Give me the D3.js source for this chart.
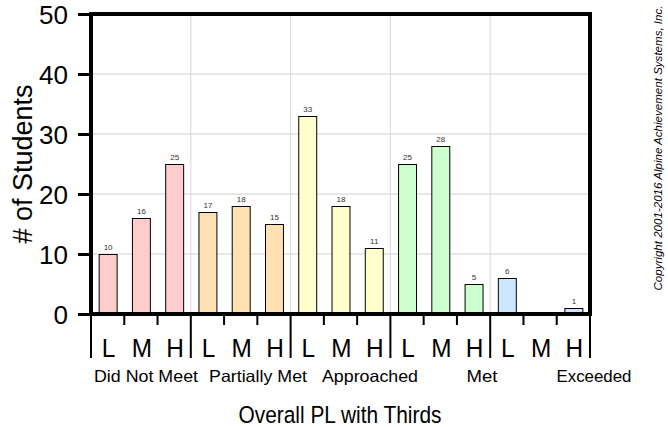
<!DOCTYPE html>
<html><head><meta charset="utf-8">
<script src="https://cdn.jsdelivr.net/npm/d3@7"></script>
<style>body{margin:0;background:#fff}svg{display:block;font-family:"Liberation Sans",Arial,sans-serif}</style>
</head><body><svg id="c" width="668" height="427"></svg>
<script>
const groups = ["Did Not Meet","Partially Met","Approached","Met","Exceeded"];
const thirds = ["L","M","H"];
const values = [[10,16,25],[17,18,15],[33,18,11],[25,28,5],[6,0,1]];
const colors = ["#ffcccc","#ffe0b2","#ffffcc","#ccffcc","#cce6ff"];
const yTicks = [0,10,20,30,40,50];

const svg = d3.select("#c");
const L = 91, R = 590, T = 14, B = 314;
const slots = [];
groups.forEach((g,gi)=>thirds.forEach((t,ti)=>slots.push({g,gi,t,ti,v:values[gi][ti],key:gi+"-"+ti})));
const x = d3.scaleBand().domain(slots.map(d=>d.key)).range([L,R]).paddingInner(0.46).paddingOuter(0.23);
const gx = d3.scaleBand().domain(groups).range([L,R]);
const gl = d3.scaleBand().domain(groups).range([90,650]);
const y = d3.scaleLinear().domain([0,50]).range([B,T]);

// grid
svg.append("g").selectAll("line").data(yTicks.slice(1,-1)).join("line")
  .attr("x1",L).attr("x2",R).attr("y1",d=>y(d)).attr("y2",d=>y(d)).attr("stroke","#d0d0d0");
svg.append("g").selectAll("line").data(groups.slice(1)).join("line")
  .attr("x1",d=>gx(d)).attr("x2",d=>gx(d)).attr("y1",T).attr("y2",B).attr("stroke","#d8d8d8");

// bars
svg.append("g").selectAll("rect").data(slots.filter(d=>d.v>0)).join("rect")
  .attr("x",d=>x(d.key)+0.5).attr("y",d=>y(d.v)+0.5).attr("width",x.bandwidth()).attr("height",d=>y(0)-y(d.v))
  .attr("fill",d=>colors[d.gi]).attr("stroke","#000").attr("stroke-width",1);
svg.append("g").selectAll("text").data(slots.filter(d=>d.v>0)).join("text")
  .attr("x",d=>x(d.key)+x.bandwidth()/2+0.5).attr("y",d=>y(d.v)-4)
  .attr("text-anchor","middle").attr("font-size",8).attr("fill","#333").text(d=>d.v);

// frame
svg.append("path").attr("d",`M${L},${B}V${T}H${R}V${B}`).attr("fill","none").attr("stroke","#000").attr("stroke-width",4);

// y axis
const ya = svg.append("g").attr("transform",`translate(${L},0)`).call(d3.axisLeft(y).tickValues(yTicks).tickSize(13).tickPadding(10));
ya.select(".domain").remove();
ya.selectAll(".tick line").attr("stroke-width",3);
ya.selectAll(".tick text").attr("font-size",26).attr("fill","#000").attr("dy","0.36em");

// x axis line
svg.append("line").attr("x1",L-2).attr("x2",R+2).attr("y1",B).attr("y2",B).attr("stroke","#000").attr("stroke-width",4);
const bounds = groups.map(g=>gx(g)).concat([R]);
svg.append("g").selectAll("line").data(bounds).join("line")
  .attr("x1",d=>d).attr("x2",d=>d).attr("y1",B).attr("y2",358).attr("stroke","#000").attr("stroke-width",2);
const shortT = [];
groups.forEach(g=>{shortT.push(gx(g)+gx.bandwidth()/3, gx(g)+2*gx.bandwidth()/3);});
svg.append("g").selectAll("line").data(shortT).join("line")
  .attr("x1",d=>d).attr("x2",d=>d).attr("y1",B).attr("y2",325).attr("stroke","#000").attr("stroke-width",2);
svg.append("g").selectAll("text").data(slots).join("text")
  .attr("transform",d=>`translate(${gx(d.g)+gx.bandwidth()*(d.ti+0.5)/3+1},357) scale(0.92,1)`)
  .attr("text-anchor","middle").attr("font-size",26.5).text(d=>d.t);
const glW = [104,98,96,31,75];
svg.append("g").selectAll("text").data(groups).join("text")
  .attr("x",d=>gl(d)+gl.bandwidth()/2).attr("y",382)
  .attr("text-anchor","middle").attr("font-size",16.5)
  .attr("textLength",(d,i)=>glW[i]).attr("lengthAdjust","spacingAndGlyphs").text(d=>d);

// titles
svg.append("text").attr("x",340).attr("y",423).attr("text-anchor","middle").attr("font-size",24.5)
  .attr("textLength",203).attr("lengthAdjust","spacingAndGlyphs").text("Overall PL with Thirds");
svg.append("text").attr("transform",`translate(32,164) rotate(-90)`).attr("text-anchor","middle").attr("font-size",27).text("# of Students");
svg.append("text").attr("transform",`translate(662,148) rotate(-90)`).attr("text-anchor","middle").attr("font-size",11).attr("font-style","italic")
  .attr("textLength",285).attr("lengthAdjust","spacingAndGlyphs").text("Copyright 2001-2016 Alpine Achievement Systems, Inc.");
</script></body></html>
